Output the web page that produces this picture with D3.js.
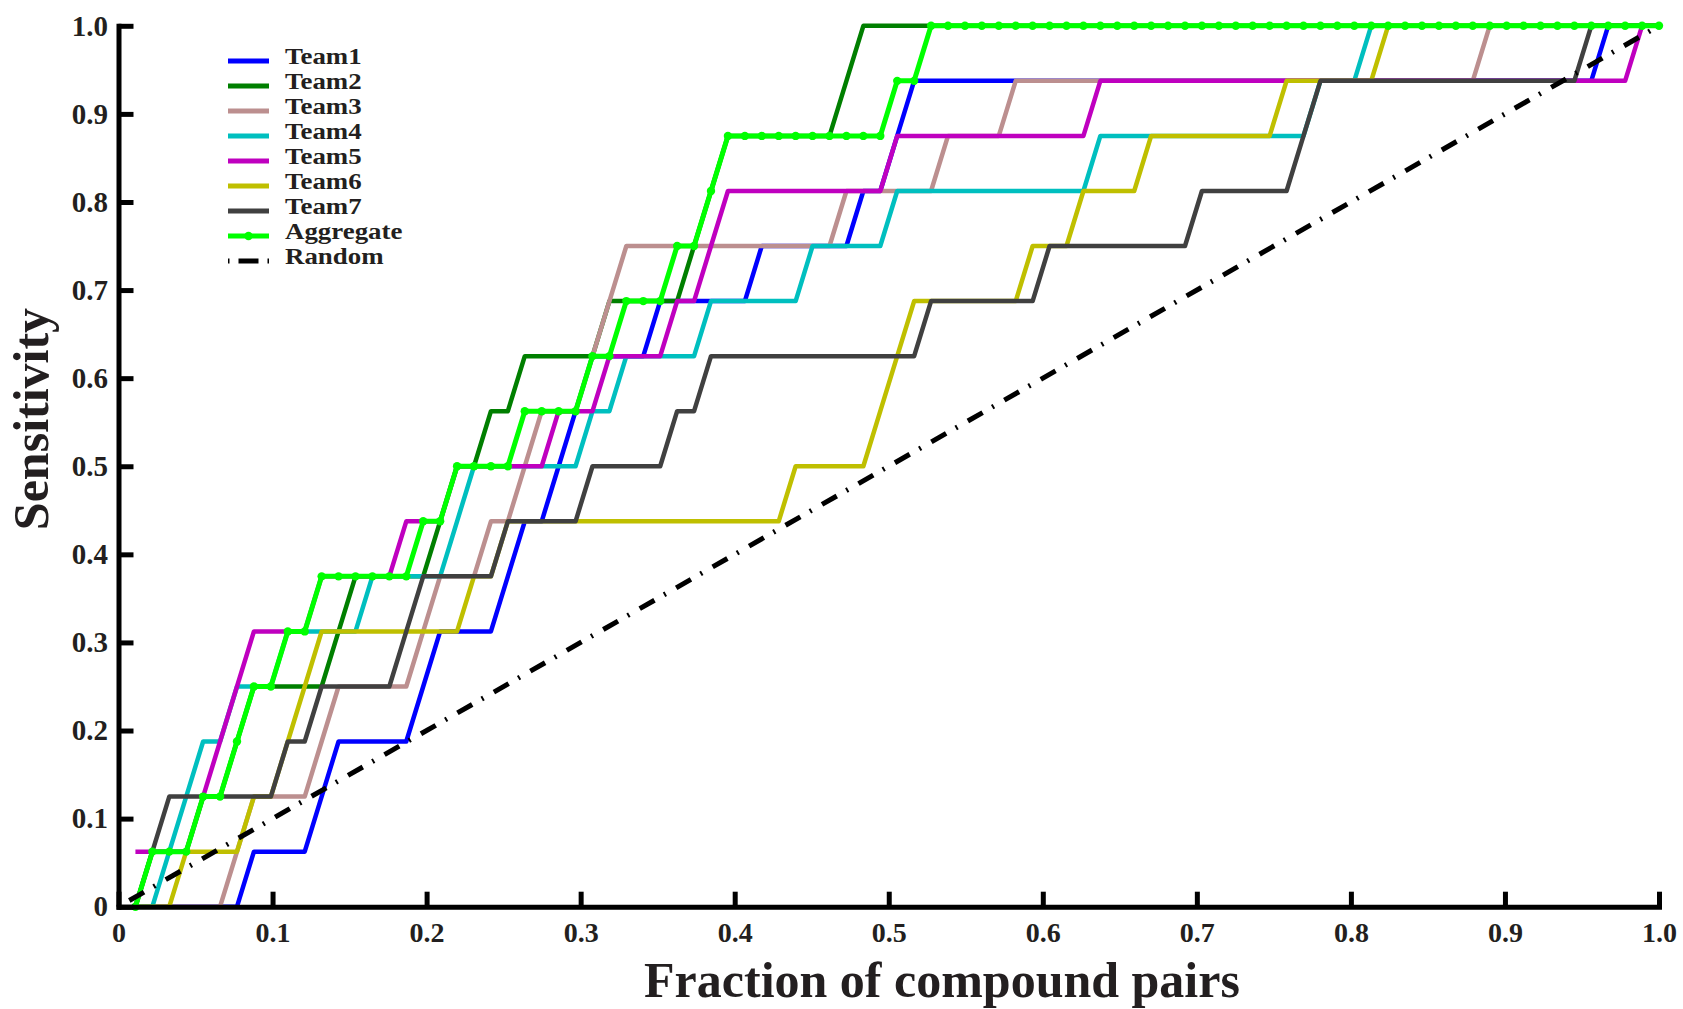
<!DOCTYPE html>
<html>
<head>
<meta charset="utf-8">
<script src="https://cdn.jsdelivr.net/npm/d3@7"></script>
<style>
  body { margin: 0; background: #fff; }
  svg { display: block; }
  text { font-family: "Liberation Serif", "Times New Roman", serif; font-weight: bold; fill: #231f20; }
</style>
</head>
<body>
<svg id="chart" width="1683" height="1009"></svg>
<script>
// Ranked compound pairs (x) and number of true pairs recovered (y) per rank.
const totalPairs = 91;
const totalActives = 16;

const seriesNames = ["Team1", "Team2", "Team3", "Team4", "Team5", "Team6", "Team7", "Aggregate"];

// Cumulative count of true pairs found at ranks 1..91
const team1 = [0,0,0,0,0,0,0, 1,1,1,1, 2, 3,3,3,3,3, 4, 5,5,5,5, 6, 7,7, 8, 9, 10,10,10,10,
  11,11,11,11,11,11, 12,12,12,12,12,12, 13,13, 14,
  15,15,15,15,15,15,15,15,15,15, 15,15,15,15,15,15,15,15,15,15, 15,15,15,15,15,15,15,15,15,15, 15,15,15,15,15,15,15,15,15,15, 15,
  16,16,16,16];

const team2 = [0, 1,1,1, 2,2, 3, 4,4,4,4,4, 5, 6,6,6,6,6, 7, 8,8, 9,9, 10,10,10,10,10,
  11,11,11,11,11, 12, 13, 14,14,14,14,14,14,14, 15,
  16,16,16,16,16,16,16,16,16,16, 16,16,16,16,16,16,16,16,16,16, 16,16,16,16,16,16,16,16,16,16, 16,16,16,16,16,16,16,16,16,16, 16,16,16,16,16,16,16,16];

const team3 = [0,0,0,0,0,0, 1, 2,2,2,2, 3, 4,4,4,4,4, 5, 6,6,6, 7,7, 8, 9,9,9, 10, 11,
  12,12,12,12,12,12,12,12,12,12, 12,12,12,
  13,13,13,13,13,13, 14,14,14,14,
  15,15,15,15,15,15,15,15,15,15, 15,15,15,15,15,15,15,15,15,15, 15,15,15,15,15,15,15,15,
  16,16,16,16,16,16,16,16,16,16, 16];

const team4 = [0,0, 1, 2, 3,3, 4,4,4, 5,5,5,5,5, 6,6,6,6,6, 7, 8,8,8,8,8,8,8, 9,9,
  10,10,10,10,10, 11,11,11,11,11,11, 12,12,12,12,12,
  13,13,13,13,13,13,13,13,13,13, 13,13,
  14,14,14,14,14,14,14,14,14,14, 14,14,14,
  15,15,15,
  16,16,16,16,16,16,16,16,16,16, 16,16,16,16,16,16,16,16];

const team5 = [1,1,1,1, 2, 3, 4, 5,5,5,5, 6,6,6,6,6, 7,7,7, 8,8,8,8,8,8, 9,9,9,
  10,10,10,10, 11,11, 12,
  13,13,13,13,13,13,13,13,13,13,
  14,14,14,14,14,14,14,14,14,14, 14,14,
  15,15,15,15,15,15,15,15,15,15, 15,15,15,15,15,15,15,15,15,15, 15,15,15,15,15,15,15,15,15,15, 15,15,
  16,16];

const team6 = [0,0,0, 1,1,1,1, 2,2, 3, 4, 5,5,5,5,5,5,5,5,5, 6,6,
  7,7,7,7,7,7,7,7,7,7, 7,7,7,7,7,7,7,
  8,8,8,8,8, 9, 10, 11,11,11,11,11,11,11, 12,12,12, 13,13,13,13,
  14,14,14,14,14,14,14,14, 15,15,15,15,15,15,
  16,16,16,16,16,16,16,16,16,16, 16,16,16,16,16,16,16];

const team7 = [0, 1, 2,2,2,2,2,2,2, 3,3, 4,4,4,4,4, 5, 6,6,6,6,6, 7,7,7,7,7, 8,8,8,8,8, 9,9,
  10,10,10,10,10,10,10,10,10,10, 10,10,10,
  11,11,11,11,11,11,11, 12,12,12,12,12,12,12,12,12, 13,13,13,13,13,13, 14,
  15,15,15,15,15,15,15,15,15,15, 15,15,15,15,15,15,
  16,16,16,16,16];

const aggregate = [0, 1,1,1, 2,2, 3, 4,4, 5,5, 6,6,6,6,6,6, 7,7, 8,8,8,8, 9,9,9,9, 10,10,
  11,11,11, 12,12, 13, 14,14,14,14,14,14,14,14,14,14, 15,15,
  16,16,16,16,16,16,16,16,16,16, 16,16,16,16,16,16,16,16,16,16, 16,16,16,16,16,16,16,16,16,16, 16,16,16,16,16,16,16,16,16,16, 16,16,16,16];

// Chance-level reference line (fraction, sensitivity)
const randomX = [0.007, 1];
const randomY = [0.007, 1];

const xTicks = [0, 0.1, 0.2, 0.3, 0.4, 0.5, 0.6, 0.7, 0.8, 0.9, 1.0];
const xTickLabels = ["0", "0.1", "0.2", "0.3", "0.4", "0.5", "0.6", "0.7", "0.8", "0.9", "1.0"];
const yTicks = [0, 0.1, 0.2, 0.3, 0.4, 0.5, 0.6, 0.7, 0.8, 0.9, 1.0];
const yTickLabels = ["0", "0.1", "0.2", "0.3", "0.4", "0.5", "0.6", "0.7", "0.8", "0.9", "1.0"];

const legendLabels = ["Team1", "Team2", "Team3", "Team4", "Team5", "Team6", "Team7", "Aggregate", "Random"];

// ---- styling ----
const seriesColors = ["#0000ff", "#007f00", "#bc8f8f", "#00bfbf", "#bf00bf", "#bfbf00", "#404040", "#00ff00"];
const randomDash = "17,11,2,12";

const svg = d3.select("#chart");
const plotLeft = 118.5, plotRight = 1659, plotBottom = 906.7, plotTop = 25.8;

const x = d3.scaleLinear().domain([0, 1]).range([plotLeft, plotRight]);
const y = d3.scaleLinear().domain([0, 1]).range([plotBottom, plotTop]);
const xRank = d3.scaleLinear().domain([0, totalPairs]).range([plotLeft, plotRight]);
const yCount = d3.scaleLinear().domain([0, totalActives]).range([plotBottom, plotTop]);

const seriesData = [team1, team2, team3, team4, team5, team6, team7, aggregate];

const rankLine = d3.line()
  .x((d, i) => xRank(i + 1))
  .y(d => yCount(d));

const plot = svg.append("g");

seriesData.forEach((vals, s) => {
  plot.append("path")
    .datum(vals)
    .attr("d", rankLine)
    .attr("fill", "none")
    .attr("stroke", seriesColors[s])
    .attr("stroke-width", s === 7 ? 5 : 4.5)
    .attr("stroke-linejoin", "round")
    .attr("stroke-linecap", "butt");
});

// Markers on every ranked point of the aggregate curve
plot.append("g")
  .selectAll("circle")
  .data(aggregate)
  .join("circle")
  .attr("cx", (d, i) => xRank(i + 1))
  .attr("cy", d => yCount(d))
  .attr("r", 4.2)
  .attr("fill", seriesColors[7]);

// Random baseline
plot.append("path")
  .datum(randomX.map((v, i) => [v, randomY[i]]))
  .attr("d", d3.line().x(d => x(d[0])).y(d => y(d[1])))
  .attr("fill", "none")
  .attr("stroke", "#000")
  .attr("stroke-width", 5)
  .attr("stroke-dasharray", randomDash);

// ---- axes ----
const xAxis = d3.axisBottom(x)
  .tickValues(xTicks)
  .tickFormat((d, i) => xTickLabels[i])
  .tickSizeInner(-15)
  .tickSizeOuter(0)
  .tickPadding(15);

const yAxis = d3.axisLeft(y)
  .tickValues(yTicks)
  .tickFormat((d, i) => yTickLabels[i])
  .tickSizeInner(-15)
  .tickSizeOuter(0)
  .tickPadding(10.5);

const gx = svg.append("g").attr("transform", `translate(0,${plotBottom})`).call(xAxis);
const gy = svg.append("g").attr("transform", `translate(${plotLeft},0)`).call(yAxis);

[gx, gy].forEach(g => {
  g.select(".domain").attr("stroke", "#000").attr("stroke-width", 5).attr("stroke-linecap", "square");
  g.selectAll(".tick line").attr("stroke", "#000").attr("stroke-width", 5);
  g.selectAll(".tick text")
    .attr("font-family", "'Liberation Serif', 'Times New Roman', serif")
    .attr("font-weight", "bold")
    .attr("fill", "#231f20");
});
gx.selectAll(".tick text").attr("font-size", 28);
gy.selectAll(".tick text").attr("font-size", 29);

// Axis titles
svg.append("text")
  .attr("x", 942)
  .attr("y", 997)
  .attr("text-anchor", "middle")
  .attr("font-size", 50)
  .text("Fraction of compound pairs");

svg.append("text")
  .attr("transform", "translate(48,419) rotate(-90)")
  .attr("text-anchor", "middle")
  .attr("font-size", 50)
  .text("Sensitivity");

// ---- legend ----
const legend = svg.append("g").attr("transform", "translate(228,61)");
const rowGap = 25;
legendLabels.forEach((label, i) => {
  const row = legend.append("g").attr("transform", `translate(0,${i * rowGap})`);
  if (i < 8) {
    row.append("line")
      .attr("x1", 0).attr("x2", 41).attr("y1", 0).attr("y2", 0)
      .attr("stroke", seriesColors[i])
      .attr("stroke-width", 5);
    if (i === 7) {
      row.append("circle").attr("cx", 20.5).attr("cy", 0).attr("r", 4.2).attr("fill", seriesColors[7]);
    }
  } else {
    row.append("line")
      .attr("x1", 0).attr("x2", 41).attr("y1", 0).attr("y2", 0)
      .attr("stroke", "#000")
      .attr("stroke-width", 5)
      .attr("stroke-dasharray", "1.5,9,20,9,1.5");
  }
  const t = row.append("text")
    .attr("x", 57)
    .attr("y", 2.5)
    .attr("font-size", 22.4)
    .text(label);
  // widen the compact legend type a little
  const w = t.node().getComputedTextLength();
  t.attr("textLength", w * 1.2).attr("lengthAdjust", "spacingAndGlyphs");
});
</script>
</body>
</html>
